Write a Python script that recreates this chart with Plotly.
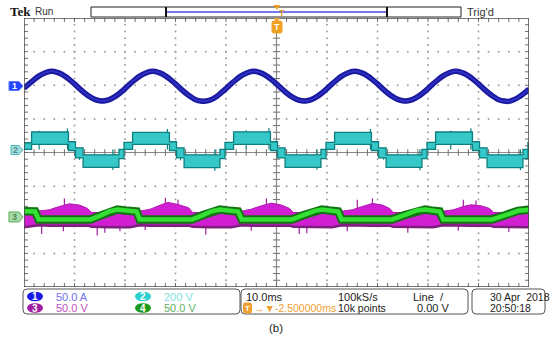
import plotly.graph_objects as go

# ---------------- data read from the screen ----------------
# horizontal: 10.0 ms/div, 10 divisions -> 0..100 ms across the screen
ch1_time_ms = list(range(0, 101))
ch1_current_A = [
    -3, 3.5, 10, 15.5, 19.5, 22, 22, 19.5, 15.5, 10, 3.5, -3.5, -10, -15.5, -19.5, -21.5, -21.5, -19.5, -15.5, -10,
    -3.5, 3.5, 10, 15.5, 19.5, 22, 22, 19.5, 15.5, 10, 3.5, -3.5, -10, -15.5, -20, -22, -22, -20, -16, -10,
    -3.5, 3.5, 10, 15.5, 19.5, 22, 22, 19.5, 15.5, 10, 3.5, -3.5, -10, -15.5, -19.5, -21.5, -21.5, -19.5, -15.5, -10,
    -3.5, 3.5, 10, 15.5, 19.5, 22, 22, 19.5, 15.5, 10, 3.5, -3.5, -10, -15.5, -19.5, -21.5, -21.5, -19.5, -15.5, -10,
    -3.5, 3.5, 10, 15.5, 19.5, 22, 22, 19.5, 15.5, 10, 3.5, -3.5, -10, -15.5, -20, -22, -22.5, -20, -16, -10.5,
    -4,
]

# channel 2: stepped voltage, envelope (upper / lower) of each step
ch2_edges_ms = [0, 1.5, 8.8, 10.2, 11.7, 18.8, 19.8, 21.5, 28.8, 30.2, 31.7, 38.8, 39.8,
                41.5, 48.8, 50.2, 51.7, 58.8, 59.8, 61.5, 68.8, 70.2, 71.7, 78.8, 79.8,
                81.5, 88.8, 90.2, 91.7, 98.8, 99.8, 100]
ch2_upper_V = [40,
               104, 46, 10, -32, 0, 42,
               102, 46, 10, -32, 0, 42,
               105, 46, 10, -32, 0, 42,
               102, 46, 10, -32, 0, 42,
               104, 46, 10, -32, 0, 42]
ch2_lower_V = [0,
               30, -6, -50, -106, -54, 0,
               30, -6, -50, -108, -54, 0,
               30, -6, -50, -106, -54, 0,
               30, -6, -50, -106, -54, 0,
               30, -6, -50, -108, -54, 0]
ch2_spike_ms = [8.6, 28.4, 48.5, 68.6, 88.5, 17.6, 37.8, 58.0, 78.4, 98.3, 11.0, 31.0, 71.2, 3.0, 44.0, 84.5]
ch2_spike_V = [125, 122, 128, 122, 126, -122, -126, -120, -124, -123, -62, -65, -60, 112, 114, 112]

# channel 3 (magenta) envelope
ch3_time_ms = [0, 2.9, 5, 7, 9, 11, 12.6, 13.4, 17, 21,
               22.9, 25, 27, 28.5, 30.5, 32.6, 33.4, 37, 41,
               43.1, 45, 47, 49, 51, 52.6, 53.3, 57, 61,
               62.9, 65, 67, 69, 71, 72.4, 73.1, 77, 81,
               83, 85, 87, 88.5, 90.5, 92.2, 93, 97, 100]
ch3_upper_V = [6, 8, 10, 15, 19, 17, 12, 6, 6, 6,
               8, 11, 17, 21, 18, 13, 6, 6, 6,
               8, 11, 16, 20, 17, 12, 6, 6, 6,
               8, 10, 15, 19.5, 17, 12, 6, 6, 6,
               8, 10, 15, 17.5, 16, 12, 6, 6, 6]
ch3_lower_V = [-16, -13, -13.5, -13.5, -13.5, -13.5, -13.5, -15, -16, -16,
               -13, -13.5, -13.5, -13.5, -13.5, -13.5, -15, -16, -16,
               -13, -13.5, -13.5, -13.5, -13.5, -13.5, -15, -16, -16,
               -13, -13.5, -13.5, -13.5, -13.5, -13.5, -15, -16, -16,
               -13, -13.5, -13.5, -13.5, -13.5, -13.5, -15, -16, -16]
ch3_spike_ms = [3.5, 7.8, 16, 19, 24, 36, 45, 56, 64, 76, 86, 96, 8, 28, 30.5, 48, 66, 69, 87, 89.5, 14.5, 54.5]
ch3_spike_V = [-26, -22, -24, -22, -20, -27, -21, -25, -22, -24, -21, -23, 27, 28, 25, 27, 25, 27, 25, 24, -28, -26]

# channel 4 (green) centre line
ch4_time_ms = [0, 2.2, 2.9, 13.2, 15.0, 17.0, 18.5, 20.5, 22.3, 22.9,
               33.3, 35.2, 37.2, 38.8, 40.8, 42.4, 43.1,
               53.1, 55.3, 57.6, 59.0, 61.0, 62.2, 62.9,
               72.9, 75.3, 77.8, 79.4, 81.0, 82.3, 83.0,
               92.7, 95.3, 97.8, 100]
ch4_voltage_V = [8, 7.5, -4.2, -4.2, 1, 8, 10.5, 8.5, 7.5, -4.2,
                 -4.2, 1.5, 8, 10.5, 8.5, 7.5, -4.2,
                 -4.2, 2, 8.5, 10.5, 8.5, 7.5, -4.2,
                 -4.2, 2, 9, 10.5, 8.5, 7.5, -4.2,
                 -4.2, 2, 8.5, 10]

channel_names = ["1", "2", "3", "4"]
channel_scale_labels = ["50.0 A", "200 V", "50.0 V", "50.0 V"]
channel_per_div = [50.0, 200.0, 50.0, 50.0]
channel_offset_div = [1.97, 0.09, -1.905, -1.905]

# ---------------- geometry helpers ----------------
W, H = 550, 342
L, R, T, B = 24, 529, 18, 287
PW, PH = R - L, B - T


def px(x):
    return (x - L) / PW


def py(y):
    return (B - y) / PH


def to_div(vals, ch):
    return [channel_offset_div[ch] + v / channel_per_div[ch] for v in vals]


fig = go.Figure()

# ---------------- graticule ----------------
gx, gy = [], []
for k in range(1, 10):
    if k == 5:
        continue
    for j in range(41):
        gx.append(k * 10); gy.append(-4 + j * 0.2)
for k in [-3, -2, -1, 1, 2, 3]:
    for j in range(51):
        gx.append(j * 2); gy.append(k)
fig.add_trace(go.Scatter(x=gx, y=gy, mode="markers",
                         marker=dict(size=2, color="#a0a0a0", line=dict(width=0)),
                         hoverinfo="skip"))

tx, ty = [], []
for j in range(1, 50):
    xv = j * 2
    tx += [xv, xv, None]; ty += [-0.1, 0.1, None]
    tx += [xv, xv, None]; ty += [4, 3.88, None]
    tx += [xv, xv, None]; ty += [-4, -3.88, None]
for j in range(1, 40):
    yv = -4 + j * 0.2
    tx += [49.3, 50.7, None]; ty += [yv, yv, None]
    tx += [0, 0.8, None]; ty += [yv, yv, None]
    tx += [100, 99.2, None]; ty += [yv, yv, None]
fig.add_trace(go.Scatter(x=tx, y=ty, mode="lines", line=dict(color="#707070", width=1),
                         hoverinfo="skip"))

shapes = [
    dict(type="line", x0=50, x1=50, y0=-4, y1=4, xref="x", yref="y",
         line=dict(color="#8a8a8a", width=1.2), layer="below"),
    dict(type="line", x0=0, x1=100, y0=0, y1=0, xref="x", yref="y",
         line=dict(color="#8a8a8a", width=1.2), layer="below"),
]

# ---------------- channel 1 ----------------
fig.add_trace(go.Scatter(x=ch1_time_ms, y=to_div(ch1_current_A, 0), mode="lines",
                         line=dict(color="#1a1aa0", width=5.5, shape="spline"),
                         hoverinfo="skip"))
fig.add_trace(go.Scatter(x=ch1_time_ms, y=to_div(ch1_current_A, 0), mode="lines",
                         line=dict(color="#3333c8", width=1.5, shape="spline"),
                         hoverinfo="skip"))

# ---------------- channel 2 ----------------
sx, sy = [], []
for t, v in zip(ch2_spike_ms, ch2_spike_V):
    sx += [t, t, None]; sy += [channel_offset_div[1], channel_offset_div[1] + v / channel_per_div[1], None]
fig.add_trace(go.Scatter(x=sx, y=sy, mode="lines", line=dict(color="#0e7f7f", width=1.2),
                         hoverinfo="skip"))
bx, by = [], []
for i in range(len(ch2_upper_V)):
    bx += [ch2_edges_ms[i], ch2_edges_ms[i + 1]]
    by += [ch2_upper_V[i], ch2_upper_V[i]]
for i in reversed(range(len(ch2_lower_V))):
    bx += [ch2_edges_ms[i + 1], ch2_edges_ms[i]]
    by += [ch2_lower_V[i], ch2_lower_V[i]]
bx.append(bx[0]); by.append(by[0])
fig.add_trace(go.Scatter(x=bx, y=to_div(by, 1), mode="lines", fill="toself",
                         fillcolor="#36c8c8", line=dict(color="#0e7f7f", width=1.3),
                         hoverinfo="skip"))

# ---------------- channel 3 ----------------
sx, sy = [], []
for t, v in zip(ch3_spike_ms, ch3_spike_V):
    sx += [t, t, None]; sy += [channel_offset_div[2], channel_offset_div[2] + v / channel_per_div[2], None]
fig.add_trace(go.Scatter(x=sx, y=sy, mode="lines", line=dict(color="#a020a0", width=1.2),
                         hoverinfo="skip"))
mx = ch3_time_ms + ch3_time_ms[::-1]
my = ch3_upper_V + ch3_lower_V[::-1]
fig.add_trace(go.Scatter(x=mx, y=to_div(my, 2), mode="lines", fill="toself",
                         fillcolor="#d21ed2", line=dict(color="#b018b0", width=1),
                         hoverinfo="skip"))
fig.add_trace(go.Scatter(x=ch3_time_ms, y=to_div(ch3_lower_V, 2), mode="lines",
                         line=dict(color="#7e1f7e", width=2.5), hoverinfo="skip"))

# ---------------- channel 4 ----------------
fig.add_trace(go.Scatter(x=ch4_time_ms, y=to_div(ch4_voltage_V, 3), mode="lines",
                         line=dict(color="#137313", width=8.5), hoverinfo="skip"))
fig.add_trace(go.Scatter(x=ch4_time_ms, y=to_div(ch4_voltage_V, 3), mode="lines",
                         line=dict(color="#33e033", width=4.5), hoverinfo="skip"))

# border
shapes.append(dict(type="rect", x0=0, x1=100, y0=-4, y1=4, xref="x", yref="y",
                   line=dict(color="#4a4a4a", width=1.5)))

annotations = []


def text(x, y, s, size=10, color="#222", anchor="left", family="Liberation Sans", bold=False):
    annotations.append(dict(x=px(x), y=py(y), xref="paper", yref="paper", text=("<b>%s</b>" % s) if bold else s,
                            showarrow=False, xanchor=anchor, yanchor="middle",
                            font=dict(size=size, color=color, family=family)))


def poly(points, fill, line="rgba(0,0,0,0)", width=0):
    d = "M " + " L ".join("%f,%f" % (px(a), py(b)) for a, b in points) + " Z"
    shapes.append(dict(type="path", path=d, xref="paper", yref="paper",
                       fillcolor=fill, line=dict(color=line, width=width)))


def rrect(x0, y0, x1, y1, r, line="#555", fill="rgba(0,0,0,0)", width=1):
    rx, ry = r / PW, r / PH
    X0, X1, Y0, Y1 = px(x0), px(x1), py(y1), py(y0)
    d = (f"M {X0+rx},{Y0} L {X1-rx},{Y0} Q {X1},{Y0} {X1},{Y0+ry} L {X1},{Y1-ry} "
         f"Q {X1},{Y1} {X1-rx},{Y1} L {X0+rx},{Y1} Q {X0},{Y1} {X0},{Y1-ry} "
         f"L {X0},{Y0+ry} Q {X0},{Y0} {X0+rx},{Y0} Z")
    shapes.append(dict(type="path", path=d, xref="paper", yref="paper",
                       fillcolor=fill, line=dict(color=line, width=width)))


# ---------------- channel markers on the left ----------------
poly([(9, 81.5), (19, 81.5), (23, 86), (19, 90.5), (9, 90.5)], "#2244ff", "#5a78ff", 1)
text(14.5, 86, "1", 9, "white", "center", bold=True)
poly([(11, 145.5), (19, 145.5), (23, 150), (19, 154.5), (11, 154.5)], "#9fdcdc", "#4fbcbc", 1)
text(15.5, 150, "2", 9, "#5a8c8c", "center", bold=True)
poly([(9, 212), (19, 212), (23, 217), (19, 222), (9, 222)], "#a9dca9", "#5aaa5a", 1)
text(14.5, 217, "3", 9, "#4f8a4f", "center", bold=True)

# ---------------- header ----------------
text(8, 11.5, "Tek", 13, "#111", family="Liberation Serif", bold=True)
text(33, 12, "Run", 10, "#333")
text(465, 12, "Trig'd", 11, "#333")
shapes.append(dict(type="rect", x0=px(91), x1=px(461), y0=py(17), y1=py(7), xref="paper", yref="paper",
                   line=dict(color="#222", width=1)))
shapes.append(dict(type="line", x0=px(166), x1=px(387), y0=py(12), y1=py(12), xref="paper", yref="paper",
                   line=dict(color="#7777ee", width=2)))
for xx in (166, 387):
    shapes.append(dict(type="line", x0=px(xx), x1=px(xx), y0=py(7), y1=py(17), xref="paper", yref="paper",
                       line=dict(color="#111", width=2)))
poly([(273.5, 5), (280.5, 5), (277, 10)], "#f0a020")
text(281.5, 13, "T", 9, "#f0a020", "center", bold=True)
poly([(274, 18), (280, 18), (277, 22)], "#f0a020")
rrect(272, 21, 282, 33, 2, "#f0a020", "#f0a020", 1)
text(277, 27, "T", 9, "white", "center", bold=True)

# ---------------- bottom info panel ----------------
rrect(23, 289, 240, 314, 4)
rrect(241, 289, 468, 314, 4)
rrect(472, 289, 545, 314, 4)
r1, r2 = 296.5, 308
badge_cols = ["#1a1ae6", "#2ccfcf", "#a01ca0", "#1a9a1a"]
text_cols = ["#7070f0", "#80e0e0", "#c050c0", "#5fb05f"]
badge_pos = [(27, r1), (135, r1), (27, r2), (135, r2)]
for i in range(4):
    bx0, by0 = badge_pos[i]
    shapes.append(dict(type="circle", x0=px(bx0), x1=px(bx0 + 16), y0=py(by0 + 4.8), y1=py(by0 - 4.8),
                       xref="paper", yref="paper", fillcolor=badge_cols[i], line=dict(width=0)))
    text(bx0 + 8, by0, channel_names[i], 10, "white", "center", bold=True)
    text(bx0 + 27, by0, channel_scale_labels[i], 11, text_cols[i])

text(244, r1, "10.0ms", 11)
rrect(243.5, 303, 251.5, 313, 1.5, "#f0a030", "#f0a030", 1)
text(247.5, r2, "T", 8, "white", "center", bold=True)
text(252, r2, "→▼-2.500000ms", 10.5, "#f0a030")
text(336, r1, "100kS/s", 11)
text(336, r2, "10k points", 10.5)
text(411, r1, "Line  /", 11)
text(415, r2, "0.00 V", 11)
text(488, r1, "30 Apr  2018", 10.5)
text(488, r2, "20:50:18", 10.5)
text(276, 327.5, "(b)", 11.5, "#222", "center")

fig.update_layout(
    width=W, height=H,
    margin=dict(l=L, r=W - R, t=T, b=H - B, pad=0),
    paper_bgcolor="white", plot_bgcolor="white",
    showlegend=False,
    xaxis=dict(range=[0, 100], visible=False, fixedrange=True),
    yaxis=dict(range=[-4, 4], visible=False, fixedrange=True),
    shapes=shapes, annotations=annotations,
)
fig.write_html("out.html", config={"displayModeBar": False},
               post_script="document.body.style.margin='0';document.body.style.overflow='hidden';")
